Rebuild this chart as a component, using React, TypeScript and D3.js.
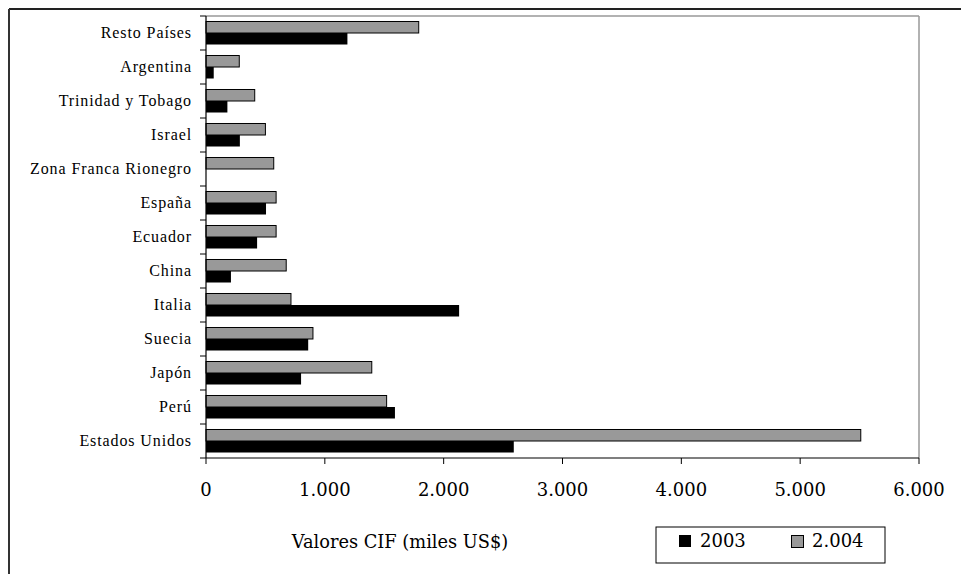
import React from "react";
import * as d3 from "d3";

const categories = [
  "Resto Países",
  "Argentina",
  "Trinidad y Tobago",
  "Israel",
  "Zona Franca Rionegro",
  "España",
  "Ecuador",
  "China",
  "Italia",
  "Suecia",
  "Japón",
  "Perú",
  "Estados Unidos",
];
const values2003 = [1190, 65, 180, 285, 0, 505, 430, 210, 2130, 860, 800, 1590, 2590];
const values2004 = [1790, 280, 410, 500, 570, 590, 590, 675, 715, 900, 1395, 1520, 5510];
const xTicks = [0, 1000, 2000, 3000, 4000, 5000, 6000];
const seriesNames = ["2.004", "2003"];
const legendLabels = ["2003", "2.004"];

const fmt = (v: number) => (v === 0 ? "0" : d3.format(",")(v).replace(/,/g, "."));

export default function App() {
  const W = 961, H = 574;
  const left = 206, right = 919, top = 16, bottom = 458;
  const x = d3.scaleLinear().domain([0, 6000]).range([left, right]);
  const y = d3.scaleBand<string>().domain(categories).range([top, bottom]).padding(0);
  const step = y.step();
  const inner = d3.scaleBand<string>().domain(seriesNames).range([0, step]).paddingInner(0).paddingOuter(0.478);
  const bw = inner.bandwidth();
  const serif = "Liberation Serif, Tinos, DejaVu Serif, serif";
  const serif2 = "DejaVu Serif, serif";
  const boundaries = categories.map((c) => y(c)!).concat([bottom]);

  return (
    <svg width={W} height={H} style={{ position: "absolute", left: 0, top: 0, background: "#fff" }}>
      {/* outer frame */}
      <line x1={9} y1={9} x2={W} y2={9} stroke="#222" strokeWidth={2} />
      <line x1={9} y1={9} x2={9} y2={H} stroke="#333" strokeWidth={2} />
      {/* plot frame top/right */}
      <line x1={left} y1={top} x2={right} y2={top} stroke="#999" strokeWidth={1.5} />
      <line x1={right} y1={top} x2={right} y2={bottom} stroke="#999" strokeWidth={1.5} />

      {/* bars */}
      {categories.map((c, i) => {
        const y0 = y(c)!;
        return (
          <g key={c}>
            <rect
              x={x(0)}
              y={y0 + inner("2.004")!}
              width={x(values2004[i]) - x(0)}
              height={bw}
              fill="#999999"
              stroke="#000"
              strokeWidth={1}
            />
            {values2003[i] > 0 && (
              <rect
                x={x(0)}
                y={y0 + inner("2003")!}
                width={x(values2003[i]) - x(0)}
                height={bw}
                fill="#000"
              />
            )}
          </g>
        );
      })}

      {/* y axis */}
      <line x1={left} y1={top} x2={left} y2={bottom} stroke="#000" strokeWidth={1.2} />
      {boundaries.map((b, i) => (
        <line key={i} x1={left - 6} y1={b} x2={left} y2={b} stroke="#000" strokeWidth={1} />
      ))}
      {categories.map((c) => (
        <text
          key={c}
          x={192}
          y={y(c)! + step / 2}
          dy="0.3em"
          textAnchor="end"
          fontFamily={serif}
          fontSize={16}
          letterSpacing={0.9}
          fill="#000"
        >
          {c}
        </text>
      ))}

      {/* x axis */}
      <line x1={left} y1={bottom} x2={right} y2={bottom} stroke="#000" strokeWidth={1.2} />
      {xTicks.map((t) => (
        <g key={t}>
          <line x1={x(t)} y1={bottom} x2={x(t)} y2={bottom + 6} stroke="#000" strokeWidth={1} />
          <text x={x(t)} y={496} textAnchor="middle" fontFamily={serif2} fontSize={18} fill="#000">
            {fmt(t)}
          </text>
        </g>
      ))}
      <text x={400} y={548} textAnchor="middle" fontFamily={serif2} fontSize={17.8} fill="#000">
        Valores CIF (miles US$)
      </text>

      {/* legend */}
      <rect x={656} y={527} width={229} height={36} fill="#fff" stroke="#000" strokeWidth={1} />
      <rect x={679} y={535} width={12} height={12} fill="#000" />
      <text x={700} y={547} fontFamily={serif2} fontSize={18} fill="#000">{legendLabels[0]}</text>
      <rect x={791.5} y={535.5} width={12} height={12} fill="#999999" stroke="#000" strokeWidth={1} />
      <text x={812} y={547} fontFamily={serif2} fontSize={18} fill="#000">{legendLabels[1]}</text>
    </svg>
  );
}
